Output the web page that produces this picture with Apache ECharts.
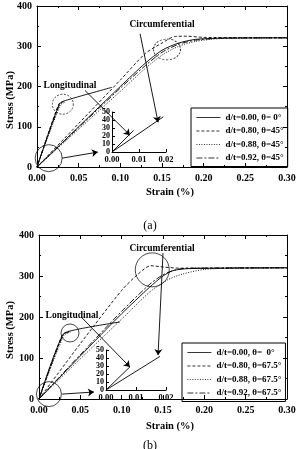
<!DOCTYPE html>
<html>
<head>
<meta charset="utf-8">
<script src="https://cdn.jsdelivr.net/npm/echarts@6/dist/echarts.min.js"></script>
<style>
html, body { margin: 0; padding: 0; background: #fff; }
#chart { width: 300px; height: 449px; }
</style>
</head>
<body>
<div id="chart"></div>
<script>
// legend names
var namesA = ['d/t=0.00, θ= 0°', 'd/t=0.80, θ=45°', 'd/t=0.88, θ=45°', 'd/t=0.92, θ=45°'];
var namesB = ['d/t=0.00, θ=  0°', 'd/t=0.80, θ=67.5°', 'd/t=0.88, θ=67.5°', 'd/t=0.92, θ=67.5°'];

// (a) longitudinal branches  [strain %, stress MPa]
var aLong0 = [[0, 0], [0.027, 157], [0.034, 165], [0.09, 198]];
var aLong1 = [[0, 0], [0.026, 156], [0.032, 163]];
var aLong2 = [[0, 0], [0.028, 154], [0.034, 161]];
var aLong3 = [[0, 0], [0.027, 155], [0.033, 163]];
// (a) circumferential branches
var aCirc0 = [[0, 0], [0.05, 100], [0.10, 200], [0.13, 258], [0.15, 290], [0.17, 308], [0.19, 317], [0.22, 320], [0.30, 321]];
var aCirc1 = [[0, 0], [0.05, 108], [0.10, 216], [0.13, 282], [0.15, 308], [0.165, 324], [0.18, 325], [0.20, 322], [0.30, 321]];
var aCirc2 = [[0, 0], [0.05, 94], [0.10, 188], [0.13, 245], [0.15, 278], [0.17, 300], [0.19, 312], [0.22, 319], [0.30, 321]];
var aCirc3 = [[0, 0], [0.05, 98], [0.10, 196], [0.13, 252], [0.15, 285], [0.17, 305], [0.19, 315], [0.22, 320], [0.30, 321]];

// (b) longitudinal branches
var bLong0 = [[0, 0], [0.029, 157], [0.047, 170], [0.098, 188]];
var bLong1 = [[0, 0], [0.028, 156], [0.036, 165]];
var bLong2 = [[0, 0], [0.030, 155], [0.038, 163]];
var bLong3 = [[0, 0], [0.029, 156], [0.037, 164]];
// (b) circumferential branches
var bCirc0 = [[0, 0], [0.05, 105], [0.10, 208], [0.134, 273], [0.15, 300], [0.162, 313], [0.18, 318], [0.30, 320]];
var bCirc1 = [[0, 0], [0.05, 135], [0.10, 265], [0.12, 305], [0.135, 325], [0.15, 322], [0.17, 319], [0.30, 320]];
var bCirc2 = [[0, 0], [0.05, 98], [0.10, 195], [0.134, 261], [0.155, 290], [0.174, 305], [0.20, 316], [0.23, 319], [0.30, 320]];
var bCirc3 = [[0, 0], [0.05, 108], [0.10, 214], [0.134, 280], [0.15, 303], [0.165, 315], [0.18, 319], [0.30, 320]];

// insets (zoom near origin)
var aInLong = [[0, 0], [0.008, 27]];
var aInCirc = [[0, 0], [0.019, 44]];
var bInLong = [[0, 0], [0.008, 29]];
var bInCirc = [[0, 0], [0.018, 42]];

// callout circles [strain, stress, w, h]
var aCirclesDashed = [[0.031, 156, 21, 20], [0.156, 292, 27, 21]];
var aCirclesSolid = [[0.014, 22, 27, 27]];
var bCirclesSolid = [[0.0375, 161, 18, 18], [0.137, 315, 34, 34], [0.012, 12, 25, 25]];

// arrows [from, to]
var aArrows = [[[0.0576, 190], [0.1116, 79]], [[0.1237, 331], [0.1453, 111]], [[0.030, 22], [0.073, 37]]];
var bArrows = [[[0.052, 198], [0.110, 78]], [[0.150, 356], [0.144, 107]], [[0.028, 12], [0.0665, 17]]];

var FONT = 'Liberation Serif';
var styles = [
    { type: 'solid' },
    { type: [3, 2] },
    { type: [1, 1.5] },
    { type: [6, 2, 2, 2] }
];

function mainX(grid, pos, label) {
    return {
        type: 'value', gridIndex: grid, position: pos,
        min: 0, max: 0.3, interval: 0.05,
        axisLine: { show: true, onZero: false, lineStyle: { color: '#000', width: 1 } },
        axisTick: { show: true, inside: true, length: 4, lineStyle: { color: '#000' } },
        minorTick: { show: true, splitNumber: 2, length: 2, lineStyle: { color: '#000' } },
        splitLine: { show: false },
        axisLabel: {
            show: label, margin: 6, color: '#000', fontFamily: FONT, fontWeight: 'bold', fontSize: 10,
            formatter: function (v) { return v.toFixed(2); }
        }
    };
}
function mainY(grid, pos, label) {
    return {
        type: 'value', gridIndex: grid, position: pos,
        min: 0, max: 400, interval: 100,
        axisLine: { show: true, onZero: false, lineStyle: { color: '#000', width: 1 } },
        axisTick: { show: true, inside: true, length: 4, lineStyle: { color: '#000' } },
        minorTick: { show: true, splitNumber: 2, length: 2, lineStyle: { color: '#000' } },
        splitLine: { show: false },
        axisLabel: { show: label, margin: 5, color: '#000', fontFamily: FONT, fontWeight: 'bold', fontSize: 10 }
    };
}
function insetX(grid) {
    return {
        type: 'value', gridIndex: grid, min: 0, max: 0.02, interval: 0.01,
        axisLine: { show: true, onZero: false, lineStyle: { color: '#000', width: 1 } },
        axisTick: { show: true, inside: true, length: 3, lineStyle: { color: '#000' } },
        splitLine: { show: false },
        axisLabel: {
            margin: 3, color: '#000', fontFamily: FONT, fontWeight: 'bold', fontSize: 8.5,
            showMinLabel: true, showMaxLabel: true, hideOverlap: false,
            formatter: function (v) { return v.toFixed(2); }
        }
    };
}
function insetY(grid) {
    return {
        type: 'value', gridIndex: grid, min: 0, max: 50, interval: 10,
        axisLine: { show: true, onZero: false, lineStyle: { color: '#000', width: 1 } },
        axisTick: { show: true, inside: true, length: 3, lineStyle: { color: '#000' } },
        splitLine: { show: false },
        axisLabel: {
            margin: 2, color: '#000', fontFamily: FONT, fontWeight: 'bold', fontSize: 8, lineHeight: 8,
            showMinLabel: true, showMaxLabel: true, hideOverlap: false
        }
    };
}

function curve(name, data, k, xi, yi) {
    return {
        name: name, type: 'line', xAxisIndex: xi, yAxisIndex: yi,
        data: data, symbol: 'none', smooth: 0.25, silent: true,
        lineStyle: { color: '#000', width: 0.9, type: styles[k].type },
        itemStyle: { color: '#000' }
    };
}
function plain(data, xi, yi) {
    return {
        type: 'line', xAxisIndex: xi, yAxisIndex: yi, data: data, symbol: 'none', silent: true,
        lineStyle: { color: '#000', width: 0.9 }
    };
}
function circles(data, dashed, xi, yi, arrows) {
    var s = {
        type: 'scatter', xAxisIndex: xi, yAxisIndex: yi, silent: true,
        data: data.map(function (c) {
            return { value: [c[0], c[1]], symbolSize: [c[2], c[3]] };
        }),
        symbol: 'circle',
        itemStyle: { color: 'rgba(0,0,0,0)', borderColor: '#000', borderWidth: 0.9, borderType: dashed ? [2, 1.5] : 'solid' }
    };
    if (arrows) {
        s.markLine = {
            silent: true, symbol: ['none', 'arrow'], symbolSize: 6,
            label: { show: false },
            lineStyle: { color: '#000', width: 0.9, type: 'solid' },
            data: arrows.map(function (a) { return [{ coord: a[0] }, { coord: a[1] }]; })
        };
    }
    return s;
}

var series = [];
var aLong = [aLong0, aLong1, aLong2, aLong3];
var aCirc = [aCirc0, aCirc1, aCirc2, aCirc3];
var bLong = [bLong0, bLong1, bLong2, bLong3];
var bCirc = [bCirc0, bCirc1, bCirc2, bCirc3];
for (var i = 0; i < 4; i++) {
    series.push(curve(namesA[i], aCirc[i], i, 0, 0));
    series.push(curve(namesA[i], aLong[i], i, 0, 0));
    series.push(curve(namesB[i], bCirc[i], i, 3, 3));
    series.push(curve(namesB[i], bLong[i], i, 3, 3));
}
series.push(circles(aCirclesDashed, true, 0, 0, aArrows));
series.push(circles(aCirclesSolid, false, 0, 0, null));
series.push(circles(bCirclesSolid, false, 3, 3, bArrows));
series.push(plain(aInLong, 2, 2));
series.push(plain(aInCirc, 2, 2));
series.push(plain(bInLong, 5, 5));
series.push(plain(bInCirc, 5, 5));

function legendBox(names, left, top) {
    return {
        data: names, orient: 'vertical', left: left, top: top,
        itemWidth: 24, itemHeight: 8, itemGap: 4.5,
        padding: [5, 4, 4, 5],
        borderColor: '#000', borderWidth: 1,
        selectedMode: false,
        itemStyle: { opacity: 0 },
        lineStyle: { width: 0.8 },
        textStyle: { color: '#000', fontFamily: FONT, fontWeight: 'bold', fontSize: 9 }
    };
}

function txt(str, x, y, size, bold, rot) {
    return {
        type: 'text', x: x, y: y, rotation: rot || 0, silent: true,
        style: {
            text: str, fill: '#000',
            font: (bold ? 'bold ' : '') + size + 'px "' + FONT + '"',
            align: 'center', verticalAlign: 'middle',
            textAlign: 'center', textVerticalAlign: 'middle'
        }
    };
}

var option = {
    animation: false,
    backgroundColor: '#fff',
    grid: [
        { left: 37, top: 6, width: 250, height: 161 },
        { left: 112, top: 112, width: 54, height: 40 },
        { left: 39, top: 235, width: 248, height: 164 },
        { left: 106, top: 350, width: 60, height: 40 }
    ],
    xAxis: [mainX(0, 'bottom', true), mainX(0, 'top', false), insetX(1),
            mainX(2, 'bottom', true), mainX(2, 'top', false), insetX(3)],
    yAxis: [mainY(0, 'left', true), mainY(0, 'right', false), insetY(1),
            mainY(2, 'left', true), mainY(2, 'right', false), insetY(3)],
    legend: [legendBox(namesA, 191, 108), legendBox(namesB, 182, 343)],
    graphic: [
        txt('Stress (MPa)', 10, 100, 10.5, true, Math.PI / 2),
        txt('Strain (%)', 170, 192, 10.5, true),
        txt('(a)', 150, 226, 12, false),
        txt('Longitudinal', 70, 86, 9.5, true),
        txt('Circumferential', 162, 25, 9.5, true),
        txt('Stress (MPa)', 10, 330, 10.5, true, Math.PI / 2),
        txt('Strain (%)', 170, 426, 10.5, true),
        txt('(b)', 150, 446, 12, false),
        txt('Longitudinal', 72, 316, 9.5, true),
        txt('Circumferential', 162, 249, 9.5, true)
    ],
    series: series
};

var chart = echarts.init(document.getElementById('chart'), null, { renderer: 'canvas' });
chart.setOption(option);
</script>
</body>
</html>
